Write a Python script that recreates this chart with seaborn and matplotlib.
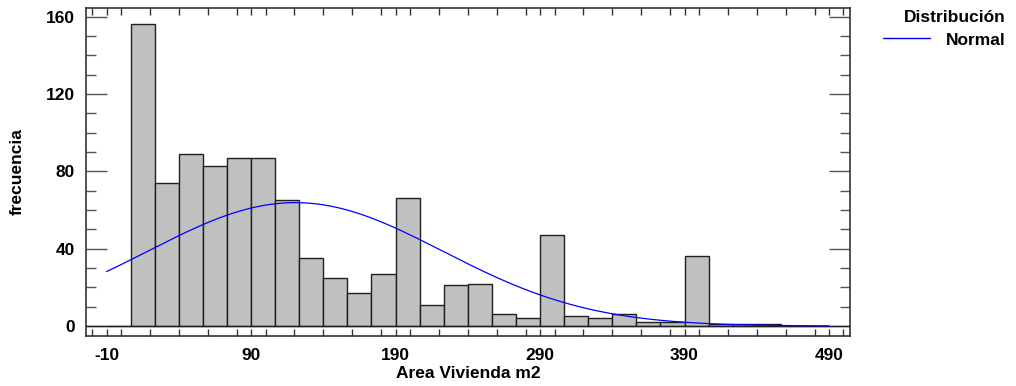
import numpy as np
import pandas as pd
import matplotlib
matplotlib.use("Agg")
import matplotlib.pyplot as plt
from matplotlib.lines import Line2D
from matplotlib.ticker import MultipleLocator
import seaborn as sns

# Histogram of dwelling area: 30 equal bins from -10 to 490 m2
bin_start = -10.0
bin_stop = 490.0
n_bins = 30
counts = [0, 156, 74, 89, 83, 87, 87, 65, 35, 25, 17, 27, 66, 11, 21, 22,
          6, 4, 47, 5, 4, 6, 2, 2, 36, 1, 1, 1, 0, 0]

x_label = "Area Vivienda m2"
y_label = "frecuencia"
legend_title = "Distribución"
legend_entry = "Normal"
x_ticks = [-10, 90, 190, 290, 390, 490]
y_ticks = [0, 40, 80, 120, 160]

edges = np.linspace(bin_start, bin_stop, n_bins + 1)
centers = (edges[:-1] + edges[1:]) / 2
width = edges[1] - edges[0]
hist_df = pd.DataFrame({"area": centers, "n": counts})

# Fitted normal, scaled to expected counts per bin
cnt = np.asarray(counts, dtype=float)
total = cnt.sum()
mu = (cnt * centers).sum() / total
sigma = np.sqrt((cnt * (centers - mu) ** 2).sum() / total)
xs = np.linspace(bin_start, bin_stop, 400)
ys = total * width * np.exp(-0.5 * ((xs - mu) / sigma) ** 2) / (sigma * np.sqrt(2 * np.pi))
curve_df = pd.DataFrame({"area": xs, "freq": ys})

sns.set_theme(style="white")
plt.rcParams["font.family"] = ["Liberation Sans", "DejaVu Sans"]
plt.rcParams["font.weight"] = "bold"
plt.rcParams["axes.unicode_minus"] = False
plt.rcParams["text.color"] = "black"
plt.rcParams["axes.labelcolor"] = "black"
plt.rcParams["xtick.color"] = "black"
plt.rcParams["ytick.color"] = "black"

FS = 12.5

fig = plt.figure(figsize=(10.16, 3.86), dpi=100)
ax = fig.add_axes([0.0843, 0.1303, 0.7523, 0.849])

sns.histplot(data=hist_df, x="area", weights="n", bins=n_bins,
             binrange=(bin_start, bin_stop), ax=ax,
             color="#c0c0c0", alpha=1.0, edgecolor="#202020", linewidth=1.0,
             zorder=2)
ax.axhline(0, color="#202020", lw=1.0, zorder=3)
sns.lineplot(data=curve_df, x="area", y="freq", ax=ax, color="#0000ff",
             lw=0.9, zorder=4)

ax.set_xlim(-24.5, 504.5)
ax.set_ylim(-5, 164.5)
ax.set_xticks(x_ticks)
ax.set_yticks(y_ticks)
ax.xaxis.set_minor_locator(MultipleLocator(20))
ax.yaxis.set_minor_locator(MultipleLocator(10))

ax.tick_params(axis="x", which="major", direction="in", length=5, width=1,
               top=True, bottom=True, labelsize=FS, pad=9, color="#333333",
               labelcolor="black")
ax.tick_params(axis="x", which="minor", direction="in", length=5, width=1,
               top=True, bottom=True, color="#333333")
ax.tick_params(axis="y", which="major", direction="in", length=15, width=1,
               left=True, right=True, labelsize=FS, pad=8, color="#555555",
               labelcolor="black")
ax.tick_params(axis="y", which="minor", direction="in", length=7, width=1,
               left=True, right=True, color="#555555")
for lab in ax.get_xticklabels() + ax.get_yticklabels():
    lab.set_fontweight("bold")

for sp in ax.spines.values():
    sp.set_color("#333333")
    sp.set_linewidth(1.2)

ax.set_xlabel(x_label, fontsize=FS, fontweight="bold", labelpad=2, color="black")
ax.set_ylabel(y_label, fontsize=FS, fontweight="bold", labelpad=15, color="black")

handle = Line2D([0], [0], color="#0000ff", lw=1)
leg = fig.legend([handle], [legend_entry], title=legend_title,
                 loc="upper right", bbox_to_anchor=(1.0, 1.0),
                 frameon=False, fontsize=FS, title_fontsize=FS,
                 handlelength=2.7, handletextpad=0.9, borderaxespad=0.2,
                 labelspacing=0.4)
leg.get_title().set_fontweight("bold")
leg.get_title().set_color("black")
for t in leg.get_texts():
    t.set_fontweight("bold")
    t.set_color("black")
leg._legend_box.align = "right"
leg._legend_box.sep = 5

fig.savefig("out.png", dpi=100)
